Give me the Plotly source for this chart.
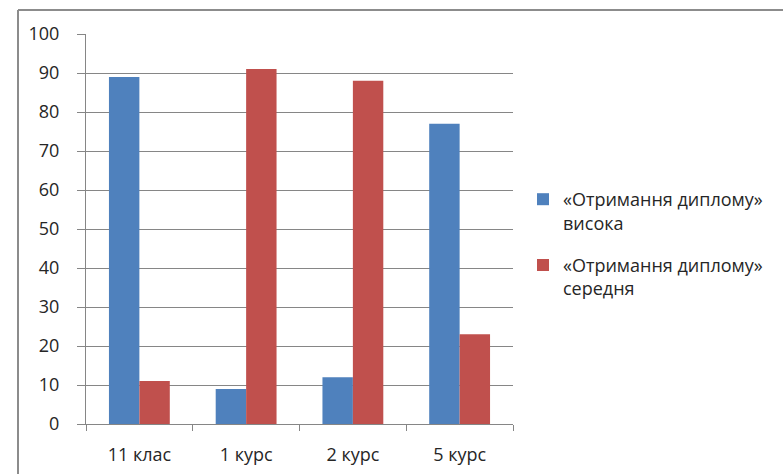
import plotly.graph_objects as go

categories = ["11 клас", "1 курс", "2 курс", "5 курс"]
series_names = ["«Отримання диплому»<br>висока", "«Отримання диплому»<br>середня"]
high_values = [89, 9, 12, 77]
medium_values = [11, 91, 88, 23]
series_colors = ["#4F81BD", "#C0504D"]
y_ticks = [0, 10, 20, 30, 40, 50, 60, 70, 80, 90, 100]

FONT = "Open Sans, Lato, sans-serif"
TEXT = "#262626"
W, H = 783, 474
L, R, T, B = 86, 270, 34, 50
pw, ph = W - L - R, H - T - B

fig = go.Figure()
for i, (name, vals, col) in enumerate(zip(series_names, [high_values, medium_values], series_colors)):
    fig.add_trace(go.Bar(x=categories, y=vals, name=name, legendgroup=f"g{i}",
                         marker=dict(color=col, line=dict(width=0))))

# outer chart frame (left and top edges visible)
fx0 = (18 - L) / pw
fy1 = 1 + (T - 10) / ph
fig.add_shape(type="line", xref="paper", yref="paper", x0=fx0, x1=fx0, y0=-0.5, y1=fy1,
              line=dict(color="#8C8C8C", width=2))
fig.add_shape(type="line", xref="paper", yref="paper", x0=fx0, x1=2.0, y0=fy1, y1=fy1,
              line=dict(color="#8C8C8C", width=2))

fig.update_layout(
    width=W, height=H,
    margin=dict(l=L, r=R, t=T, b=B, pad=0, autoexpand=False),
    paper_bgcolor="white", plot_bgcolor="white",
    barmode="group", bargap=0.43, bargroupgap=0,
    font=dict(family=FONT, size=18, color=TEXT),
    legend=dict(x=(523 - L) / pw, y=(424 - 181) / ph, xanchor="left", yanchor="top",
                valign="top", tracegroupgap=16, itemwidth=30,
                font=dict(family=FONT, size=18, color=TEXT)),
    showlegend=True,
)
fig.update_xaxes(showgrid=False, showline=True, linecolor="#868686", linewidth=1,
                 ticks="outside", tickson="boundaries", ticklen=6, tickcolor="#868686",
                 ticklabelstandoff=14, tickfont=dict(size=18), automargin=False)
fig.update_yaxes(range=[0, 100], tickvals=y_ticks, showgrid=True, gridcolor="#868686", gridwidth=1,
                 showline=True, linecolor="#868686", linewidth=1, zeroline=False,
                 ticks="outside", ticklen=8, tickcolor="#868686", ticklabelstandoff=14,
                 tickfont=dict(size=18), automargin=False)

fig.write_html("out.html")
